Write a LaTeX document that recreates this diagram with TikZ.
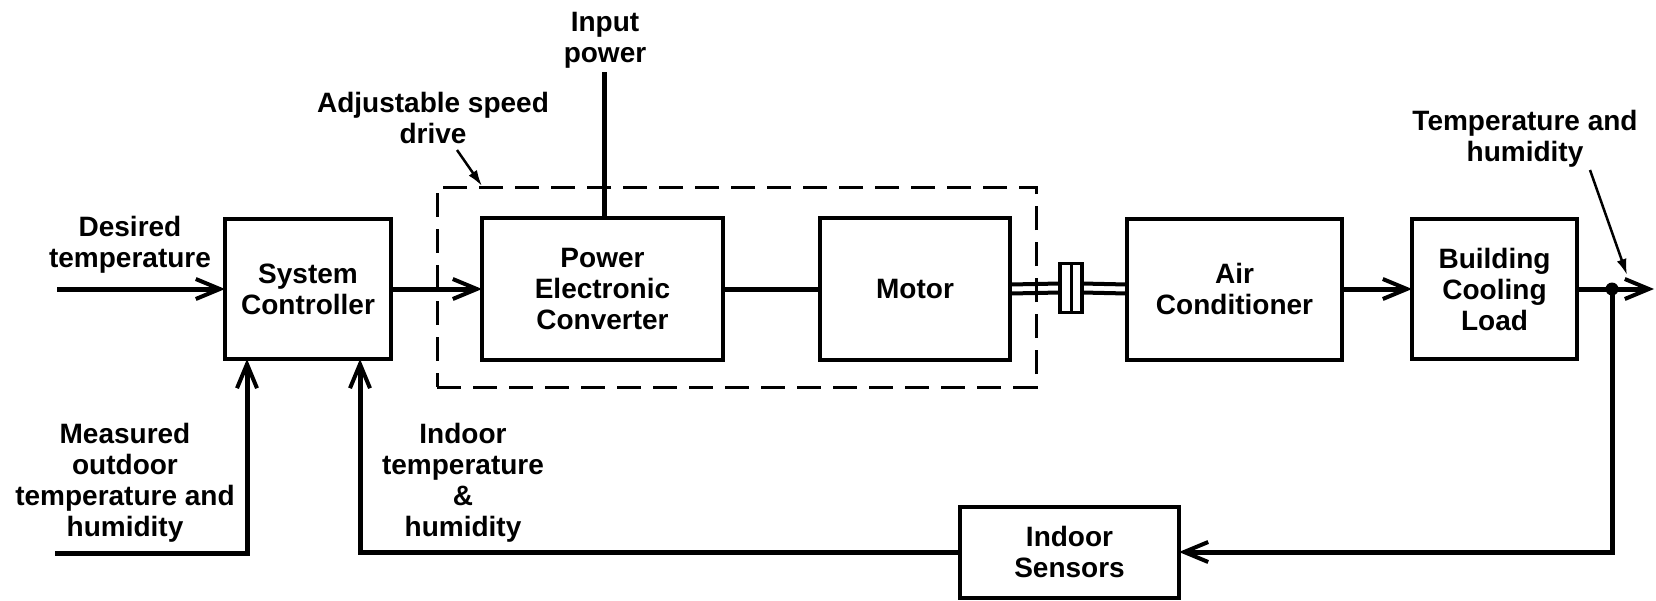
\documentclass[tikz,border=0pt]{standalone}
\usepackage{fontspec}
\setmainfont{Liberation Sans}
\usetikzlibrary{arrows.meta}
\newcommand\lblfont{\fontsize{28}{31}\selectfont\bfseries}
\begin{document}
\begin{tikzpicture}[x=1pt,y=-1pt,
  box/.style={draw,line width=4pt,inner sep=0pt,outer sep=0pt,align=center,font=\lblfont},
  lbl/.style={align=center,font=\lblfont,inner sep=0pt},
  flow/.style={line width=5pt,-{Straight Barb[length=24pt,width=20pt,line width=4pt]}},
  plain/.style={line width=5pt},
  shaft/.style={line width=4pt},
  pointer/.style={line width=2.5pt,-{Latex[length=16pt,width=10pt]}},
  asdbox/.style={draw,line width=3pt,dash pattern=on 24pt off 12pt,inner sep=0pt,outer sep=0pt}]
\useasboundingbox (0,0) rectangle (1656,600);
% boxes
\node[asdbox,minimum width=599pt,minimum height=200pt] (asd) at (736.5,287) {};
\node[box,minimum width=166pt,minimum height=140pt] (ctrl) at (308,289) {System\\Controller};
\node[box,minimum width=241pt,minimum height=142pt] (pec) at (602.5,289) {Power\\Electronic\\Converter};
\node[box,minimum width=190pt,minimum height=142pt] (motor) at (915,289) {Motor};
\node[box,minimum width=215pt,minimum height=141pt] (ac) at (1234.5,289) {Air\\Conditioner};
\node[box,minimum width=165pt,minimum height=140pt] (bcl) at (1494.5,289) {Building\\Cooling\\Load};
\node[box,minimum width=219pt,minimum height=91pt] (sens) at (1069.5,552) {Indoor\\Sensors};
\node[draw,line width=3.5pt,inner sep=0pt,outer sep=0pt,minimum width=22pt,minimum height=49pt] (coup) at (1071,288) {};
\draw[line width=3pt] (coup.north) -- (coup.south);
% labels
\node[lbl] (ldes) at (130,245) {Desired\\temperature};
\node[lbl] (linp) at (605,40) {Input\\power};
\node[lbl] (lasd) at (433,118) {Adjustable speed\\drive};
\node[lbl] (lth) at (1525,139) {Temperature and\\humidity};
\node[lbl] (lmea) at (125,483) {Measured\\outdoor\\temperature and\\humidity};
\node[lbl] (lind) at (463,483) {Indoor\\temperature\\\&\\humidity};
% coordinates
\coordinate (din) at (57,289);
\coordinate (ip) at (604,72);
\coordinate (j) at (1612,289);
\coordinate (out) at (1654,289);
\coordinate (min) at (55,553);
\coordinate (a1) at (457,150);
\coordinate (a2) at (482,186);
\coordinate (t1) at (1590,170);
\coordinate (t2) at (1627,275);
% connectors
\draw[flow] (din) -- (ctrl.west);
\draw[flow] (ctrl.east) -- (pec.west);
\draw[plain] (pec.east) -- (motor.west);
\draw[plain] (ip) -- (ip |- pec.north);
\draw[shaft] ([yshift=4.5pt]motor.east) -- ([yshift=4.5pt]coup.west);
\draw[shaft] ([yshift=-4.5pt]motor.east) -- ([yshift=-4.5pt]coup.west);
\draw[shaft] ([yshift=4.5pt]coup.east) -- ([yshift=4.5pt]ac.west);
\draw[shaft] ([yshift=-4.5pt]coup.east) -- ([yshift=-4.5pt]ac.west);
\draw[flow] (ac.east) -- (bcl.west);
\draw[plain] (bcl.east) -- (j);
\draw[flow] (j) -- (out);
\fill (j) circle (6.5pt);
\draw[flow] (j) |- (sens.east);
\draw[flow] (sens.west) -| ([xshift=52pt]ctrl.south);
\draw[flow] (min) -| ([xshift=-61pt]ctrl.south);
\draw[pointer] (a1) -- (a2);
\draw[pointer] (t1) -- (t2);
\end{tikzpicture}
\end{document}
